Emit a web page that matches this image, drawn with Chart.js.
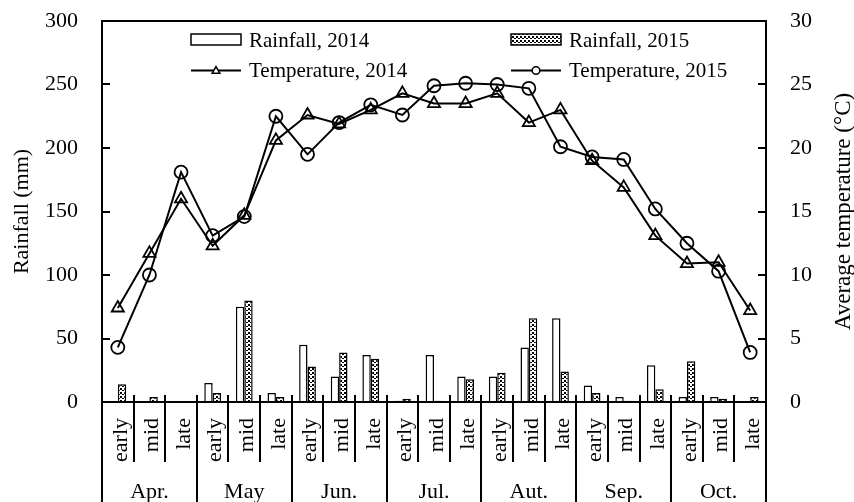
<!DOCTYPE html>
<html><head><meta charset="utf-8">
<script src="https://cdn.jsdelivr.net/npm/chart.js@4.4.1/dist/chart.umd.min.js"></script>
<style>html,body{margin:0;padding:0;background:#fff;} canvas{display:block;}</style>
</head><body>
<canvas id="c" width="854" height="502"></canvas>
<script>
const periods = ['early','mid','late','early','mid','late','early','mid','late','early','mid','late','early','mid','late','early','mid','late','early','mid','late'];
const months = ['Apr.','May','Jun.','Jul.','Aut.','Sep.','Oct.'];
const rain2014 = [0,0,0, 15,75,7, 45,20,37, 1,37,20, 20,43,66, 13,4,29, 4,4,0];
const rain2015 = [14,4,0, 7,80,4, 28,39,34, 2.5,1,18, 23,66,24, 7,1,10, 32,2.5,4];
const temp2014 = [7.4,11.7,16.0, 12.3,14.7,20.6, 22.6,21.9,23.0, 24.3,23.5,23.5, 24.3,22.0,23.0, 19.0,16.9,13.1, 10.9,11.0,7.2];
const temp2015 = [4.3,10.0,18.1, 13.1,14.6,22.5, 19.5,22.0,23.4, 22.6,24.9,25.1, 25.0,24.7,20.1, 19.3,19.1,15.2, 12.5,10.3,3.9];
const rainTicks = [0,50,100,150,200,250,300];
const tempTicks = [0,5,10,15,20,25,30];

const FONT = '"Liberation Serif", "Times New Roman", serif';

function makePattern(){
  const c = document.createElement('canvas');
  c.width = 4; c.height = 4;
  const g = c.getContext('2d');
  g.fillStyle = '#fff'; g.fillRect(0,0,4,4);
  g.fillStyle = '#000';
  g.fillRect(0,0,2,2);
  g.fillRect(2,2,2,1);
  return g.createPattern(c,'repeat');
}
const pattern = makePattern();

function seg(ctx,x1,y1,x2,y2){ctx.beginPath();ctx.moveTo(x1,y1);ctx.lineTo(x2,y2);ctx.stroke();}

const framePlugin = {
  id:'frame',
  afterDraw(chart){
    const {ctx, chartArea:a, scales} = chart;
    const x = scales.x, y = scales.y, y1 = scales.y1;
    const H = chart.height;
    ctx.save();
    ctx.strokeStyle = '#000'; ctx.lineWidth = 2; ctx.lineCap = 'butt';
    ctx.beginPath();
    ctx.moveTo(a.left, H); ctx.lineTo(a.left, a.top); ctx.lineTo(a.right, a.top); ctx.lineTo(a.right, H);
    ctx.stroke();
    seg(ctx, a.left-1, a.bottom, a.right+1, a.bottom);
    const n = periods.length;
    for (let k=1;k<n;k++){
      const px = Math.round((x.getPixelForValue(k-1)+x.getPixelForValue(k))/2);
      const end = (k%3===0) ? H : a.bottom+60;
      seg(ctx, px, a.bottom-7, px, end);
    }
    y.ticks.forEach((t,i)=>{ const py = Math.round(y.getPixelForTick(i)); seg(ctx, a.left, py, a.left+8, py); });
    y1.ticks.forEach((t,i)=>{ const py = Math.round(y1.getPixelForTick(i)); seg(ctx, a.right-8, py, a.right, py); });
    ctx.fillStyle = '#000';
    ctx.font = '22px ' + FONT;
    ctx.textAlign = 'center'; ctx.textBaseline = 'alphabetic';
    months.forEach((m,i)=>ctx.fillText(m, x.getPixelForValue(3*i+1), H-4));
    // right axis title
    ctx.save();
    ctx.font = '23px ' + FONT;
    ctx.translate(844, (a.top+a.bottom)/2);
    ctx.rotate(-Math.PI/2);
    ctx.textAlign = 'center'; ctx.textBaseline = 'middle';
    ctx.fillText('Average temperature (°C)', 0, 0);
    ctx.restore();
    // legend
    const ds = chart.data.datasets;
    const cols = [a.left+89, a.left+409];
    const rows = [46.5, 77];
    ctx.font = '21px ' + FONT;
    ctx.textAlign = 'left'; ctx.textBaseline = 'alphabetic';
    ctx.lineWidth = 1.5;
    ctx.fillStyle = '#fff';
    ctx.fillRect(cols[0], 34, 50, 11); ctx.strokeRect(cols[0], 34, 50, 11);
    ctx.fillStyle = pattern;
    ctx.fillRect(cols[1], 34, 50, 11); ctx.strokeRect(cols[1], 34, 50, 11);
    ctx.fillStyle = '#000';
    ctx.fillText(ds[0].label, cols[0]+58, rows[0]);
    ctx.fillText(ds[1].label, cols[1]+58, rows[0]);
    ctx.lineWidth = 2;
    seg(ctx, cols[0], 70.5, cols[0]+50, 70.5);
    seg(ctx, cols[1], 70.5, cols[1]+50, 70.5);
    ctx.lineWidth = 1.5;
    ctx.fillStyle = '#fff';
    Chart.helpers.drawPoint(ctx, {pointStyle:'triangle', radius:4.5, rotation:0, borderWidth:1.5}, cols[0]+25, 71);
    ctx.beginPath(); ctx.arc(cols[1]+25, 70.5, 3.8, 0, Math.PI*2); ctx.fill(); ctx.stroke();
    ctx.fillStyle = '#000';
    ctx.fillText(ds[2].label, cols[0]+58, rows[1]);
    ctx.fillText(ds[3].label, cols[1]+58, rows[1]);
    ctx.restore();
  }
};

const tickFont = {family: FONT, size: 22};
const hiddenTickGrid = {display:true, drawOnChartArea:false, drawTicks:true, tickLength:24, color:'rgba(0,0,0,0)'};

new Chart(document.getElementById('c'), {
  type: 'bar',
  data: {
    labels: periods,
    datasets: [
      {label:'Rainfall, 2014', data: rain2014, yAxisID:'y', backgroundColor:'#fff', borderColor:'#000', borderWidth:1.5, order:2},
      {label:'Rainfall, 2015', data: rain2015, yAxisID:'y', backgroundColor: pattern, borderColor:'#000', borderWidth:1.5, order:2},
      {type:'line', label:'Temperature, 2014', data: temp2014, yAxisID:'y1', borderColor:'#000', borderWidth:2, pointStyle:'triangle', pointRadius:7, pointBorderWidth:1.8, pointBackgroundColor:'rgba(0,0,0,0)', pointBorderColor:'#000', tension:0, fill:false, order:0},
      {type:'line', label:'Temperature, 2015', data: temp2015, yAxisID:'y1', borderColor:'#000', borderWidth:2, pointStyle:'circle', pointRadius:6.5, pointBorderWidth:1.8, pointBackgroundColor:'rgba(0,0,0,0)', pointBorderColor:'#000', tension:0, fill:false, order:0}
    ]
  },
  options: {
    responsive:false, animation:false, devicePixelRatio:1,
    categoryPercentage:0.53, barPercentage:1.0,
    layout:{padding:{left:5, top:21, right:0, bottom:0}},
    plugins:{legend:{display:false}, tooltip:{enabled:false}},
    scales:{
      x:{
        grid:{display:false}, border:{display:false},
        ticks:{autoSkip:false, minRotation:90, maxRotation:90, padding:8, labelOffset:3, font:tickFont, color:'#000'},
        afterFit(s){ s.height = 100; }
      },
      y:{
        position:'left', min:0, max:300,
        afterBuildTicks(s){ s.ticks = rainTicks.map(v=>({value:v})); },
        grid:hiddenTickGrid, border:{display:false},
        ticks:{padding:0, font:tickFont, color:'#000'},
        title:{display:true, text:'Rainfall (mm)', font:tickFont, color:'#000', padding:{top:4, bottom:0}},
        afterFit(s){ s.width = 97; }
      },
      y1:{
        position:'right', min:0, max:30,
        afterBuildTicks(s){ s.ticks = tempTicks.map(v=>({value:v})); },
        grid:hiddenTickGrid, border:{display:false},
        ticks:{padding:0, font:tickFont, color:'#000'},
        afterFit(s){ s.width = 88; }
      }
    }
  },
  plugins:[framePlugin]
});
</script>
</body></html>
